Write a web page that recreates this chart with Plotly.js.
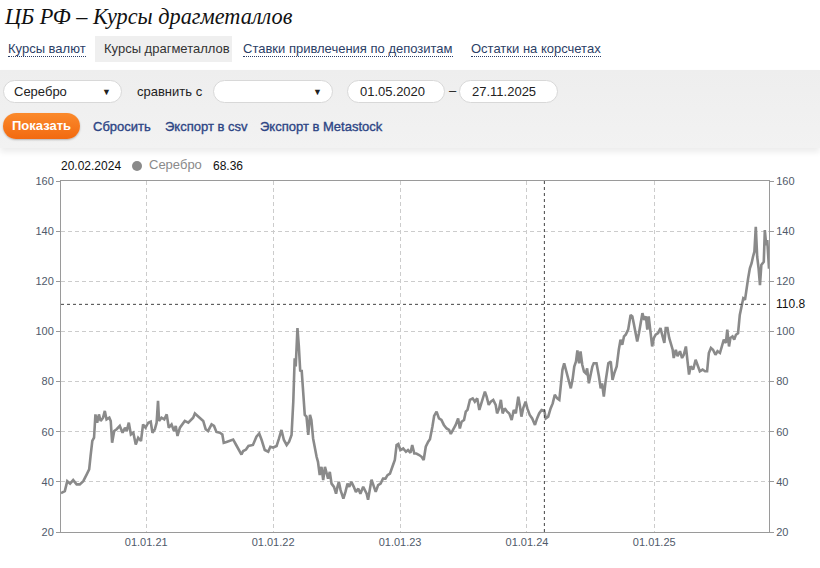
<!DOCTYPE html>
<html><head><meta charset="utf-8">
<script src="https://cdn.plot.ly/plotly-3.0.1.min.js"></script>
<style>
body{margin:0;width:820px;height:568px;overflow:hidden;background:#fff;font-family:"Liberation Sans",Arial,sans-serif;position:relative}
.abs{position:absolute;white-space:nowrap}
#title{left:5px;top:4px;font-family:"Liberation Serif","DejaVu Serif",serif;font-style:italic;font-size:22.3px;color:#111}
.tab{top:41px;font-size:13px;color:#2c3e66;border-bottom:1px dotted #2c3e66;line-height:15px}
#tabActive{left:95px;top:36px;width:137px;height:26px;background:#efefef}
#panel{left:0;top:70px;width:820px;height:78px;background:linear-gradient(#eeeeee,#f2f2f2);box-shadow:0 4px 6px rgba(0,0,0,0.08)}
.box{background:#fff;border:1px solid #d8d8d8;border-radius:13px;height:23px;box-sizing:border-box;font-size:13px;line-height:22px;color:#222}
.arrow{position:absolute;right:10px;top:0;font-size:9px}
#btn{left:3px;top:113px;width:77px;height:26px;border-radius:13px;background:linear-gradient(#fb8a2c,#f26a10);color:#fff;font-size:13px;font-weight:bold;line-height:26px;text-align:center;box-shadow:0 1px 2px rgba(0,0,0,0.25)}
.lnk{top:119px;font-size:13px;color:#2d4585;-webkit-text-stroke:0.35px #2d4585}
#plot{left:0;top:150px;width:820px;height:418px}
.leg{top:159px;font-size:12px;line-height:14px}
</style></head><body>
<div class="abs" id="title">ЦБ РФ – Курсы драгметаллов</div>
<div class="abs" id="tabActive"></div>
<div class="abs tab" style="left:8px">Курсы валют</div>
<div class="abs" style="left:104px;top:41px;font-size:13px;color:#333;line-height:15px">Курсы драгметаллов</div>
<div class="abs tab" style="left:243px">Ставки привлечения по депозитам</div>
<div class="abs tab" style="left:471px">Остатки на корсчетах</div>
<div class="abs" id="panel"></div>
<div class="abs box" style="left:3px;top:80px;width:119px;padding-left:10px">Серебро<span class="arrow">▼</span></div>
<div class="abs" style="left:137px;top:84px;font-size:13px;color:#222">сравнить с</div>
<div class="abs box" style="left:213px;top:80px;width:120px"><span class="arrow">▼</span></div>
<div class="abs box" style="left:347px;top:80px;width:98px;padding-left:12px">01.05.2020</div>
<div class="abs" style="left:449px;top:83px;font-size:13px;color:#222">–</div>
<div class="abs box" style="left:459px;top:80px;width:99px;padding-left:12px">27.11.2025</div>
<div class="abs" id="btn">Показать</div>
<div class="abs lnk" style="left:93px">Сбросить</div>
<div class="abs lnk" style="left:165px">Экспорт в csv</div>
<div class="abs lnk" style="left:260px">Экспорт в Metastock</div>
<div class="abs" id="plot"></div>
<div class="abs leg" style="left:61px;color:#111">20.02.2024</div>
<div class="abs" style="left:132px;top:161px;width:10px;height:10px;border-radius:5px;background:#8a8a8a"></div>
<div class="abs leg" style="left:149px;top:158px;font-size:13px;color:#8a8a8a">Серебро</div>
<div class="abs leg" style="left:213px;color:#111">68.36</div>
<script>
const dates2020=['2020-05-01','2020-05-12','2020-05-19','2020-05-27','2020-06-05','2020-06-15','2020-06-24','2020-07-04','2020-07-14','2020-07-21','2020-07-25','2020-07-30','2020-08-04','2020-08-08','2020-08-13','2020-08-18','2020-08-23','2020-08-30','2020-09-04','2020-09-09','2020-09-17','2020-09-21','2020-09-25','2020-10-01','2020-10-08','2020-10-17','2020-10-25','2020-11-01','2020-11-06','2020-11-12','2020-11-18','2020-11-25','2020-12-02','2020-12-09','2020-12-17','2020-12-23','2020-12-30'];
const silver2020=[35.5,36.3,40.3,39.3,40.7,39.0,39.0,40.3,43.0,45.0,50.3,56.3,57.6,66.9,63.6,66.9,64.3,65.6,68.3,64.9,65.6,64.3,55.6,60.3,61.0,62.3,59.6,61.6,60.3,63.6,58.9,59.6,54.9,57.6,56.3,62.9,61.6];
const dates2021=['2021-01-07','2021-01-14','2021-01-19','2021-01-26','2021-01-31','2021-02-04','2021-02-07','2021-02-14','2021-02-22','2021-03-01','2021-03-07','2021-03-15','2021-03-22','2021-03-27','2021-04-01','2021-04-08','2021-04-16','2021-04-22','2021-05-02','2021-05-10','2021-05-16','2021-05-21','2021-05-29','2021-06-04','2021-06-14','2021-06-21','2021-06-28','2021-07-08','2021-07-15','2021-07-22','2021-08-01','2021-08-08','2021-08-12','2021-08-20','2021-08-30','2021-09-08','2021-09-16','2021-09-25','2021-10-02','2021-10-07','2021-10-15','2021-10-22','2021-11-04','2021-11-14','2021-11-22','2021-11-29','2021-12-08','2021-12-18','2021-12-24'];
const silver2021=[63.6,64.0,59.6,61.0,63.6,72.3,64.3,65.6,64.9,66.9,61.6,62.9,60.3,62.3,58.3,61.6,62.9,64.3,63.6,64.9,65.6,67.3,66.3,65.6,64.3,61.0,60.3,62.9,62.3,59.9,59.6,58.9,55.6,55.9,56.3,56.9,54.9,52.9,50.9,52.3,52.9,54.3,54.7,58.0,59.3,56.7,52.7,52.0,54.0];
const dates2022=['2022-01-01','2022-01-11','2022-01-18','2022-01-25','2022-02-01','2022-02-09','2022-02-16','2022-02-23','2022-02-28','2022-03-04','2022-03-07','2022-03-12','2022-03-16','2022-03-20','2022-03-24','2022-03-28','2022-04-02','2022-04-07','2022-04-12','2022-04-17','2022-04-21','2022-04-26','2022-05-01','2022-05-06','2022-05-10','2022-05-15','2022-05-20','2022-05-25','2022-05-30','2022-06-04','2022-06-08','2022-06-13','2022-06-18','2022-06-25','2022-07-01','2022-07-05','2022-07-09','2022-07-14','2022-07-22','2022-07-28','2022-08-03','2022-08-08','2022-08-14','2022-08-21','2022-08-27','2022-09-03','2022-09-09','2022-09-17','2022-09-22','2022-09-27','2022-10-01','2022-10-06','2022-10-11','2022-10-18','2022-10-23','2022-10-30','2022-11-06','2022-11-13','2022-11-20','2022-11-26','2022-12-03','2022-12-10','2022-12-17','2022-12-22','2022-12-27'];
const silver2022=[53.7,54.3,57.3,60.7,56.7,54.7,56.0,58.7,72.0,89.3,86.0,101.3,94.0,84.0,84.7,76.7,66.7,66.0,58.7,66.7,64.7,57.3,52.7,50.0,48.0,42.7,46.0,40.7,46.0,43.3,41.3,44.0,39.3,38.0,35.3,38.0,40.0,36.7,33.3,36.0,39.3,38.0,40.0,38.0,36.0,37.3,35.3,38.0,36.7,35.3,32.9,37.3,40.9,38.0,36.0,38.7,39.3,41.3,41.3,42.7,43.3,46.0,48.7,54.7,55.1];
const dates2023=['2023-01-02','2023-01-10','2023-01-18','2023-01-24','2023-01-31','2023-02-05','2023-02-11','2023-02-17','2023-02-25','2023-03-04','2023-03-10','2023-03-16','2023-03-23','2023-03-28','2023-04-04','2023-04-09','2023-04-16','2023-04-23','2023-04-30','2023-05-07','2023-05-15','2023-05-22','2023-05-27','2023-06-03','2023-06-10','2023-06-17','2023-06-22','2023-06-27','2023-07-04','2023-07-09','2023-07-14','2023-07-21','2023-07-29','2023-08-04','2023-08-11','2023-08-17','2023-08-23','2023-09-02','2023-09-07','2023-09-13','2023-09-19','2023-09-26','2023-10-03','2023-10-07','2023-10-13','2023-10-18','2023-10-23','2023-10-29','2023-11-05','2023-11-11','2023-11-18','2023-11-24','2023-11-30','2023-12-07','2023-12-12','2023-12-16','2023-12-21','2023-12-28'];
const silver2023=[52.7,53.3,52.0,52.7,51.6,54.7,51.3,51.3,50.7,50.0,48.7,54.0,56.0,57.0,62.0,66.3,68.0,65.3,64.7,62.7,61.3,60.7,59.1,60.7,62.7,65.3,61.3,64.0,64.7,68.0,68.7,72.7,73.3,72.0,73.3,68.7,71.3,76.0,74.0,70.7,72.0,72.7,70.7,67.3,69.3,72.7,67.3,69.3,68.0,67.3,64.7,68.7,67.3,74.0,70.0,66.0,69.3,72.0];
const dates2024=['2024-01-02','2024-01-09','2024-01-16','2024-01-24','2024-01-30','2024-02-05','2024-02-12','2024-02-20','2024-02-24','2024-03-02','2024-03-09','2024-03-15','2024-03-21','2024-03-28','2024-04-03','2024-04-07','2024-04-12','2024-04-17','2024-04-24','2024-05-01','2024-05-06','2024-05-11','2024-05-16','2024-05-21','2024-05-25','2024-05-30','2024-06-03','2024-06-08','2024-06-13','2024-06-18','2024-06-22','2024-06-27','2024-07-02','2024-07-07','2024-07-11','2024-07-19','2024-07-26','2024-07-31','2024-08-04','2024-08-09','2024-08-14','2024-08-22','2024-08-29','2024-09-03','2024-09-08','2024-09-15','2024-09-21','2024-09-26','2024-10-01','2024-10-06','2024-10-11','2024-10-18','2024-10-25','2024-10-30','2024-11-03','2024-11-08','2024-11-13','2024-11-18','2024-11-23','2024-11-28','2024-12-03','2024-12-08','2024-12-12','2024-12-16','2024-12-21','2024-12-26','2024-12-31'];
const silver2024=[69.3,66.7,65.3,62.7,65.3,67.3,68.7,68.36,65.3,66.0,69.3,71.3,74.7,73.3,72.7,79.3,84.7,87.3,83.3,80.0,77.3,80.7,86.0,88.0,92.4,87.3,92.0,86.7,84.0,83.3,85.3,79.3,82.7,86.0,87.3,87.3,82.0,77.3,79.3,74.0,80.0,87.3,88.0,80.7,83.3,86.0,92.7,96.7,94.7,98.0,98.7,100.7,106.6,106.0,103.3,100.0,96.0,99.3,103.3,107.3,104.6,106.0,100.7,106.0,100.0,94.0,97.4];
const dates2025=['2025-01-05','2025-01-12','2025-01-19','2025-01-25','2025-01-30','2025-02-03','2025-02-08','2025-02-13','2025-02-18','2025-02-23','2025-02-26','2025-03-04','2025-03-09','2025-03-16','2025-03-22','2025-03-27','2025-04-02','2025-04-07','2025-04-11','2025-04-16','2025-04-23','2025-04-30','2025-05-06','2025-05-12','2025-05-20','2025-05-27','2025-06-02','2025-06-07','2025-06-13','2025-06-19','2025-06-26','2025-07-02','2025-07-09','2025-07-15','2025-07-20','2025-07-26','2025-07-30','2025-08-04','2025-08-08','2025-08-14','2025-08-19','2025-08-24','2025-08-30','2025-09-04','2025-09-09','2025-09-14','2025-09-19','2025-09-23','2025-09-28','2025-10-03','2025-10-08','2025-10-12','2025-10-16','2025-10-20','2025-10-24','2025-10-28','2025-11-01','2025-11-05','2025-11-09','2025-11-12','2025-11-15','2025-11-19','2025-11-22','2025-11-25','2025-11-27'];
const silver2025=[98.7,99.3,101.3,98.0,95.4,101.3,101.3,97.4,94.7,92.7,89.4,92.7,90.1,92.1,89.4,90.7,94.0,88.7,82.8,86.1,84.8,88.7,86.1,84.1,84.8,84.1,84.1,91.4,93.4,92.7,90.7,92.1,91.4,94.7,96.7,95.4,100.7,94.0,97.4,98.0,96.7,98.7,99.3,106.6,109.9,113.2,112.6,117.2,121.2,125.2,127.2,129.8,131.8,141.7,129.8,125.2,118.5,126.5,127.2,127.8,140.4,134.4,136.4,129.1,125.0];

const tickDates=['2021-01-01','2022-01-01','2023-01-01','2024-01-01','2025-01-01'];
const tickLabels=['01.01.21','01.01.22','01.01.23','01.01.24','01.01.25'];
const yTicks=[20,40,60,80,100,120,140,160];
const dateRange=['2020-05-01','2025-11-27'];
const cursorDate='2024-02-20';
const cursorLevel=110.8;

const dates=[].concat(dates2020,dates2021,dates2022,dates2023,dates2024,dates2025);
const silver=[].concat(silver2020,silver2021,silver2022,silver2023,silver2024,silver2025);

const tickFont={family:'"Liberation Sans", Arial, sans-serif',size:11,color:'#505a6a'};
const traces=[
 {x:dates,y:silver,type:'scatter',mode:'lines',line:{color:'#8a8a8a',width:2.6},hoverinfo:'skip',showlegend:false},
 {x:dates,y:silver,type:'scatter',mode:'lines',yaxis:'y2',line:{color:'rgba(0,0,0,0)',width:0},hoverinfo:'skip',showlegend:false}
];
const layout={
 width:820,height:418,
 margin:{l:61,r:51,t:31,b:36},
 paper_bgcolor:'rgba(0,0,0,0)',plot_bgcolor:'#fff',
 xaxis:{type:'date',range:dateRange,tickvals:tickDates,ticktext:tickLabels,showgrid:true,gridcolor:'#cccccc',griddash:'4px,3px',gridwidth:1,
   showline:true,linecolor:'#9a9a9a',linewidth:1,mirror:true,ticks:'',tickfont:tickFont,zeroline:false,fixedrange:true},
 yaxis:{range:[20,160],tickvals:yTicks,showgrid:true,gridcolor:'#cccccc',griddash:'4px,3px',gridwidth:1,
   showline:true,linecolor:'#9a9a9a',linewidth:1,ticks:'outside',ticklen:4,tickcolor:'#9a9a9a',tickfont:tickFont,zeroline:false,fixedrange:true},
 yaxis2:{overlaying:'y',side:'right',range:[20,160],tickvals:yTicks,showgrid:false,showline:true,linecolor:'#9a9a9a',linewidth:1,
   ticks:'outside',ticklen:4,tickcolor:'#9a9a9a',tickfont:tickFont,zeroline:false,fixedrange:true},
 shapes:[
  {type:'line',xref:'x',yref:'paper',x0:cursorDate,x1:cursorDate,y0:0,y1:1,line:{color:'#444',width:1,dash:'3px,3px'}},
  {type:'line',xref:'paper',yref:'y',x0:0,x1:1,y0:cursorLevel,y1:cursorLevel,line:{color:'#444',width:1,dash:'3px,3px'}}
 ],
 annotations:[
  {xref:'paper',yref:'y',x:1,y:cursorLevel,text:String(cursorLevel),showarrow:false,xanchor:'left',xshift:5,
   font:{family:'"Liberation Sans", Arial, sans-serif',size:12,color:'#111'}}
 ]
};
Plotly.newPlot('plot',traces,layout,{displayModeBar:false,staticPlot:true});
</script>
</body></html>
